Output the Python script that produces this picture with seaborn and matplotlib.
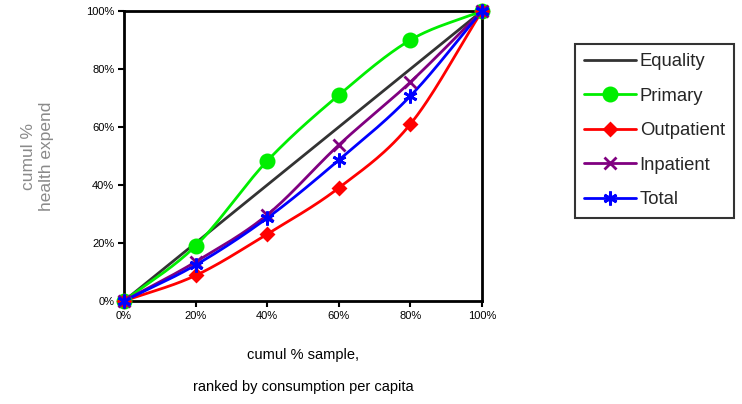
import numpy as np
import pandas as pd
import matplotlib
matplotlib.use("Agg")
import matplotlib.pyplot as plt
import seaborn as sns
from matplotlib.ticker import PercentFormatter

x_vals = [0, 20, 40, 60, 80, 100]
equality = [0, 20, 40, 60, 80, 100]
primary = [0, 19, 48.3, 71, 90, 100]
outpatient = [0, 8.8, 23.1, 39, 61, 100]
inpatient = [0, 13.5, 29.7, 53.8, 75.5, 100]
total = [0, 12.4, 28.6, 48.6, 70.7, 100]
x_ticks = [0, 20, 40, 60, 80, 100]

sns.set_theme(style="white")
plt.rcParams['font.family'] = ['Liberation Sans', 'DejaVu Sans']

fig = plt.figure(figsize=(7.42, 4.04), dpi=100)
ax = fig.add_axes([124/742, 1-301/404, (482-124)/742, (301-11)/404])


def smooth(xs, ys, n=30):
    # Catmull-Rom style smoothing of the drawn curve (Excel "smoothed line")
    xs = np.asarray(xs, float); ys = np.asarray(ys, float)
    P = np.column_stack([xs, ys])
    P = np.vstack([P[0] - (P[1] - P[0]), P, P[-1] + (P[-1] - P[-2])])
    out = []
    for i in range(1, len(P) - 2):
        p0, p1, p2, p3 = P[i-1], P[i], P[i+1], P[i+2]
        t = np.linspace(0, 1, n, endpoint=False)[:, None]
        b1 = p1 + (p2 - p0) / 6
        b2 = p2 - (p3 - p1) / 6
        seg = ((1-t)**3)*p1 + 3*((1-t)**2)*t*b1 + 3*(1-t)*(t**2)*b2 + (t**3)*p2
        out.append(seg)
    out.append(P[-2][None, :])
    out = np.vstack(out)
    return out[:, 0], out[:, 1]


series = [
    ("Equality", equality, "#333333", None, 0, False),
    ("Primary", primary, "#00ee00", "o", 9.5, True),
    ("Outpatient", outpatient, "#ff0000", "D", 6, True),
    ("Inpatient", inpatient, "#800080", "x", 8.5, True),
    ("Total", total, "#0000ff", (6, 2, 0), 10, True),
]

handles = []
for name, ys, col, mk, ms, sm in series:
    if sm:
        sx, sy = smooth(x_vals, ys)
    else:
        sx, sy = np.array(x_vals, float), np.array(ys, float)
    df = pd.DataFrame({"x": sx, "y": sy})
    sns.lineplot(data=df, x="x", y="y", ax=ax, color=col, lw=2, sort=False,
                 estimator=None, zorder=2)
    if mk is not None:
        dfp = pd.DataFrame({"x": x_vals, "y": ys})
        ax.plot(dfp["x"], dfp["y"], ls="none", marker=mk, ms=ms, color=col,
                mec=col, mew=2, zorder=3, clip_on=False)
    h, = ax.plot([], [], color=col, lw=2, marker=mk, ms=ms, mec=col, mew=2)
    handles.append((h, name))

ax.set_xlim(0, 100)
ax.set_ylim(0, 100)
ax.set_xticks(x_ticks)
ax.set_yticks(x_ticks)
ax.xaxis.set_major_formatter(PercentFormatter(decimals=0))
ax.yaxis.set_major_formatter(PercentFormatter(decimals=0))
ax.tick_params(axis="both", which="major", direction="out", length=4, width=1.5,
               color="black", labelsize=8, labelcolor="black", pad=3,
               bottom=True, left=True)
for s in ax.spines.values():
    s.set_visible(True)
    s.set_color("black")
    s.set_linewidth(2)

ax.set_xlabel("cumul % sample,\nranked by consumption per capita", fontsize=10.5,
              labelpad=20, linespacing=2.6, color="black")
ax.set_ylabel("cumul %\nhealth expend", fontsize=12.5, color="#8a8a8a",
              labelpad=23, linespacing=1.25)

leg = fig.legend([h for h, _ in handles], [n for _, n in handles],
                 loc="upper left", bbox_to_anchor=(575/742, 1-44/404),
                 frameon=True, fancybox=False, fontsize=13.3, handlelength=2.8,
                 handletextpad=0.2, borderpad=0.5, labelspacing=0.95,
                 borderaxespad=0)
leg.get_frame().set_edgecolor("black")
leg.get_frame().set_linewidth(1.5)

fig.savefig("out.png", dpi=100)
